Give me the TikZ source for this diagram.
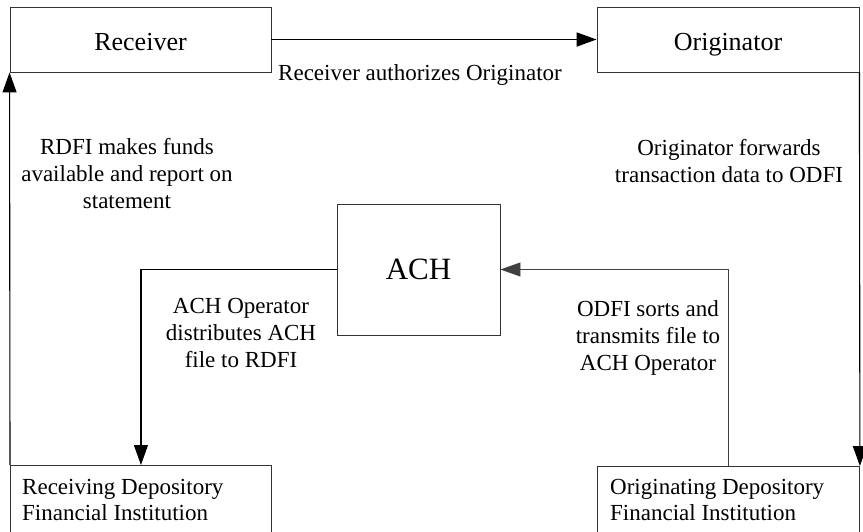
\documentclass[tikz,border=0pt]{standalone}
\usepackage{fontspec}
\setmainfont{Liberation Serif}
\usetikzlibrary{arrows.meta}
\begin{document}
\begin{tikzpicture}[x=1pt,y=-1pt,
  tip/.tip={Stealth[length=20pt,width=14pt,inset=0pt]},
  box/.style={draw=black!80, line width=0.9pt, rectangle, inner sep=0pt},
  conn/.style={draw=black, line width=1.1pt, -tip},
  thinconn/.style={draw=black!75, line width=0.8pt, -tip},
  lbl/.style={font=\fontsize{23}{27}\selectfont, align=center, anchor=base, inner sep=0pt},
  boxtext/.style={font=\fontsize{23}{26}\selectfont, align=left, anchor=base west, inner sep=0pt},
]
\useasboundingbox (0,0) rectangle (863,531);
\fill[white] (0,0) rectangle (863,531);

\node[box, minimum width=261pt, minimum height=65pt, font=\fontsize{26}{30}\selectfont,
      text height=21pt, text depth=0pt] (recv) at (140.5,39.5) {Receiver};
\node[box, minimum width=262pt, minimum height=65pt, font=\fontsize{26}{30}\selectfont,
      text height=21pt, text depth=0pt] (orig) at (728,39.5) {Originator};
\node[box, minimum width=163pt, minimum height=131pt, font=\fontsize{31}{36}\selectfont,
      text height=20.5pt, text depth=0pt] (ach) at (418.5,269.5) {ACH};
\node[box, minimum width=261pt, minimum height=90pt, anchor=north west] (rdfi) at (10,465) {};
\node[box, minimum width=262pt, minimum height=90pt, anchor=north west] (odfi) at (597,466) {};

% multi-line nodes: base anchor is the last line's baseline
\node[boxtext] (rdfitext) at (22,520) {Receiving Depository\\Financial Institution};
\node[boxtext] (odfitext) at (610,520) {Originating Depository\\Financial Institution};

\draw[conn, line width=1.8pt] (recv.east) -- (orig.west);
\draw[conn] (rdfi.north west) -- (recv.south west);
\draw[conn] (orig.south east) -- (odfi.north east);
\draw[conn] (ach.west) -| (rdfi.north);
\draw[thinconn] (odfi.north) |- (ach.east);

\node[lbl] (l1) at (420,80) {Receiver authorizes Originator};
\node[lbl] (l2) at (127,208) {RDFI makes funds\\available and report on\\statement};
\node[lbl] (l3) at (729,182) {Originator forwards\\transaction data to ODFI};
\node[lbl] (l4) at (241,367) {ACH Operator\\distributes ACH\\file to RDFI};
\node[lbl] (l5) at (648,370) {ODFI sorts and\\transmits file to\\ACH Operator};
\end{tikzpicture}
\end{document}
